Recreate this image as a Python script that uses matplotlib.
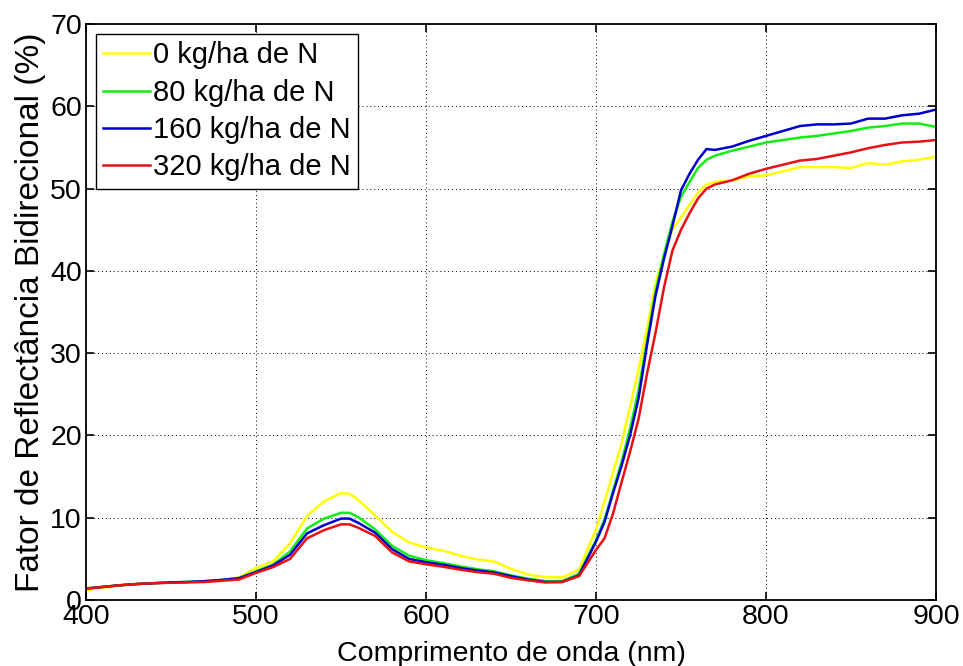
import numpy as np
import matplotlib.pyplot as plt

# %%
# SPECTRAL DATA (REFLECTANCE IN %)

wavelength = [400, 410, 420, 430, 440, 450, 460, 470, 480, 490,
              500, 510, 520, 530, 540, 550, 555, 560, 570, 580,
              590, 600, 610, 620, 630, 640, 650, 660, 670, 680,
              690, 700, 705, 710, 715, 720, 725, 730, 735, 740,
              745, 750, 755, 760, 765, 770, 780, 790, 800, 810,
              820, 830, 840, 850, 860, 870, 880, 890, 900]

refl_0 = [1.2, 1.5, 1.75, 1.95, 2.05, 2.15, 2.2, 2.3, 2.45, 2.75,
          3.9, 4.7, 6.9, 10.2, 12.0, 13.0, 12.9, 12.2, 10.3, 8.3,
          7.0, 6.4, 6.0, 5.4, 4.95, 4.7, 3.8, 3.1, 2.8, 2.75,
          3.7, 8.6, 12.0, 15.5, 19.0, 23.5, 28.0, 33.0, 38.5, 42.0,
          45.0, 46.5, 48.0, 49.5, 50.5, 50.8, 51.0, 51.5, 51.6, 52.1,
          52.6, 52.6, 52.6, 52.5, 53.1, 52.9, 53.3, 53.5, 53.9]

refl_80 = [1.4, 1.6, 1.8, 1.95, 2.05, 2.15, 2.2, 2.3, 2.45, 2.7,
           3.5, 4.3, 5.9, 8.7, 9.9, 10.6, 10.6, 10.1, 8.6, 6.6,
           5.4, 4.85, 4.5, 4.1, 3.75, 3.5, 3.0, 2.6, 2.3, 2.3,
           3.2, 7.3, 9.8, 13.3, 16.8, 20.8, 25.5, 31.5, 37.5, 42.0,
           46.0, 49.0, 50.8, 52.5, 53.5, 54.0, 54.6, 55.1, 55.6, 55.9,
           56.2, 56.4, 56.7, 57.0, 57.4, 57.6, 57.9, 57.9, 57.5]

refl_160 = [1.4, 1.6, 1.8, 1.95, 2.05, 2.15, 2.2, 2.3, 2.45, 2.65,
            3.4, 4.2, 5.5, 8.1, 9.1, 9.9, 9.9, 9.4, 8.2, 6.2,
            5.0, 4.6, 4.3, 3.9, 3.6, 3.35, 2.9, 2.5, 2.2, 2.2,
            3.0, 7.1, 9.5, 13.0, 16.3, 20.0, 24.5, 31.0, 37.0, 41.5,
            45.5, 49.8, 51.8, 53.5, 54.8, 54.7, 55.1, 55.8, 56.4, 57.0,
            57.6, 57.8, 57.8, 57.9, 58.5, 58.5, 58.9, 59.1, 59.6]

refl_320 = [1.4, 1.6, 1.8, 1.95, 2.05, 2.1, 2.15, 2.2, 2.35, 2.5,
            3.3, 4.0, 5.0, 7.5, 8.5, 9.2, 9.2, 8.8, 7.8, 5.8,
            4.7, 4.35, 4.05, 3.7, 3.4, 3.2, 2.7, 2.4, 2.15, 2.2,
            2.9, 6.1, 7.5, 10.5, 14.3, 18.0, 22.0, 27.5, 32.5, 38.0,
            42.5, 45.0, 47.0, 48.8, 50.0, 50.5, 51.0, 51.8, 52.4, 52.9,
            53.4, 53.6, 54.0, 54.4, 54.9, 55.3, 55.6, 55.7, 55.9]

labels = ["0 kg/ha de N", "80 kg/ha de N", "160 kg/ha de N", "320 kg/ha de N"]
colors = ["#ffff00", "#11ee11", "#0000cc", "#e81010"]

# %%
# PLOTTING REFLECTANCE SPECTRA

plt.rcParams["font.family"] = ["Liberation Sans", "DejaVu Sans"]

fig = plt.figure(figsize=(9.63, 6.66), dpi=100)
ax = fig.add_axes([0.0893, 0.099, 0.8827, 0.865])

for values, label, color in zip([refl_0, refl_80, refl_160, refl_320], labels, colors):
    ax.plot(wavelength, values, color=color, linewidth=1.8, label=label)

ax.set_xlim(400, 900)
ax.set_ylim(0, 70)
ax.set_xticks(np.arange(400, 901, 100))
ax.set_yticks(np.arange(0, 71, 10))

ax.grid(True, color="k", linestyle=(0, (1, 3)), linewidth=0.7)
ax.tick_params(direction="in", top=True, right=True, length=6, width=1.2,
               labelsize=20.5, pad=3)
for spine in ax.spines.values():
    spine.set_linewidth(1.3)

ax.set_xlabel("Comprimento de onda (nm)", fontsize=20.5, labelpad=8)
ax.set_ylabel("Fator de Reflectância Bidirecional (%)", fontsize=24, labelpad=3)

leg = ax.legend(loc="upper left", fontsize=21, handlelength=1.6,
                handletextpad=0.1, labelspacing=0.32, borderpad=0.25,
                borderaxespad=0.35, fancybox=False, framealpha=1)
leg.get_frame().set_edgecolor("k")
leg.get_frame().set_linewidth(1.0)

fig.savefig("out.png", dpi=100)
